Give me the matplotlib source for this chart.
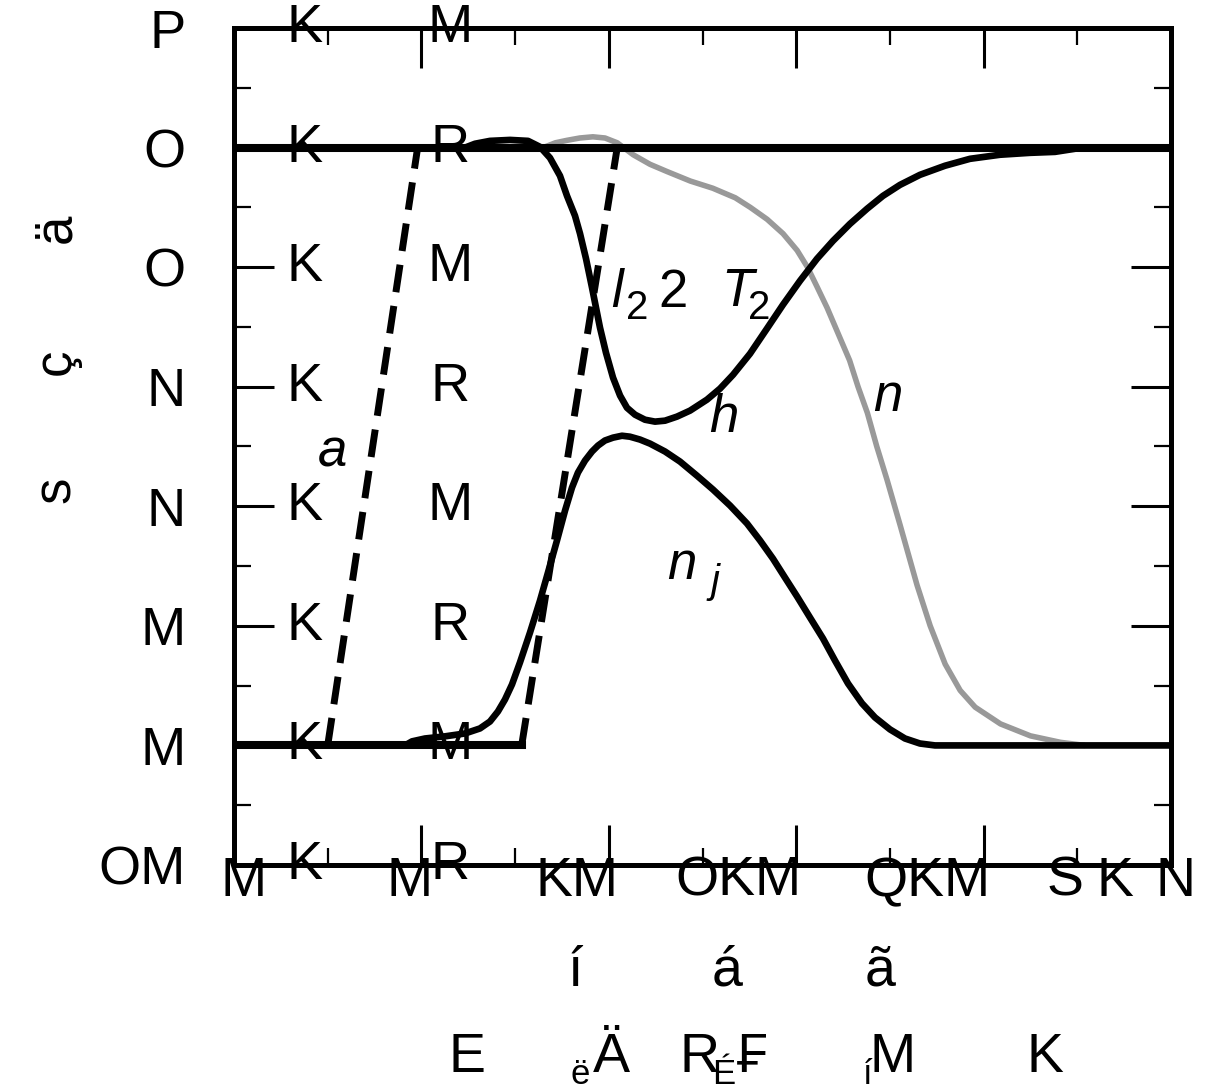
import matplotlib
matplotlib.use("Agg")
import matplotlib.pyplot as plt
from matplotlib.transforms import blended_transform_factory

plt.rcParams['font.family'] = ['Liberation Sans', 'DejaVu Sans']

# curve data
h_x = [0.2433, 0.2572, 0.2732, 0.2946, 0.3138, 0.3266, 0.3372, 0.3479, 0.3554, 0.3639,
       0.3693, 0.3757, 0.3821, 0.3906, 0.3970, 0.4045, 0.4120, 0.4194, 0.4280, 0.4386,
       0.4493, 0.4600, 0.4728, 0.4867, 0.5048, 0.5187, 0.5326, 0.5507, 0.5688, 0.5859,
       0.6041, 0.6222, 0.6393, 0.6574, 0.6756, 0.6926, 0.7108, 0.7321, 0.7588, 0.7855,
       0.8175, 0.8495, 0.8762, 0.8975]
h_y = [2.495, 2.516, 2.528, 2.532, 2.528, 2.503, 2.457, 2.382, 2.298, 2.215,
       2.140, 2.035, 1.914, 1.747, 1.642, 1.538, 1.463, 1.412, 1.383, 1.362,
       1.354, 1.358, 1.375, 1.400, 1.446, 1.492, 1.550, 1.638, 1.743, 1.843,
       1.943, 2.035, 2.110, 2.181, 2.244, 2.298, 2.344, 2.386, 2.424, 2.453,
       2.470, 2.478, 2.482, 2.495]

n_x = [0.330, 0.343, 0.355, 0.369, 0.383, 0.396, 0.409, 0.426, 0.444, 0.462,
       0.487, 0.511, 0.535, 0.551, 0.569, 0.586, 0.601, 0.612, 0.622, 0.633,
       0.645, 0.657, 0.666, 0.676, 0.686, 0.697, 0.711, 0.729, 0.743, 0.759,
       0.775, 0.791, 0.818, 0.850, 0.882, 0.908]
n_y = [2.50, 2.52, 2.53, 2.54, 2.545, 2.54, 2.52, 2.47, 2.43, 2.40,
       2.36, 2.33, 2.29, 2.25, 2.20, 2.14, 2.07, 2.00, 1.92, 1.83,
       1.72, 1.61, 1.50, 1.39, 1.25, 1.11, 0.92, 0.67, 0.50, 0.34,
       0.23, 0.16, 0.09, 0.04, 0.013, 0.0]

nj_x = [0.1825, 0.1900, 0.2038, 0.2252, 0.2465, 0.2625, 0.2732, 0.2817, 0.2892, 0.2967,
        0.3052, 0.3159, 0.3266, 0.3351, 0.3447, 0.3533, 0.3607, 0.3671, 0.3746, 0.3821,
        0.3885, 0.3959, 0.4045, 0.4141, 0.4226, 0.4333, 0.4440, 0.4600, 0.4760, 0.4941,
        0.5112, 0.5294, 0.5475, 0.5614, 0.5752, 0.5880, 0.6009, 0.6147, 0.6286, 0.6414,
        0.6553, 0.6702, 0.6841, 0.7001, 0.7161, 0.7321, 0.7481, 1.0]
nj_y = [0.000, 0.017, 0.029, 0.038, 0.050, 0.071, 0.100, 0.142, 0.192, 0.255,
        0.347, 0.472, 0.606, 0.723, 0.857, 0.982, 1.078, 1.141, 1.191, 1.229,
        1.254, 1.275, 1.287, 1.295, 1.291, 1.279, 1.262, 1.229, 1.187, 1.128,
        1.070, 1.003, 0.928, 0.857, 0.781, 0.702, 0.623, 0.535, 0.447, 0.355,
        0.259, 0.176, 0.117, 0.067, 0.029, 0.008, 0.000, 0.000]

ramp_y = [0.0, 2.5]
ramp1_x = [0.100, 0.196]
ramp2_x = [0.307, 0.409]
top_x = [0.0, 1.0]
top_y = [2.5, 2.5]
base_x = [0.0, 0.307]
base_y = [0.0, 0.0]

# tick labels
ytick_vals = [3.0, 2.5, 2.0, 1.5, 1.0, 0.5, 0.0, -0.5]
ylab_a = ['P', 'O', 'O', 'N', 'N', 'M', 'M', 'OM']
ylab_b = ['K', 'K', 'K', 'K', 'K', 'K', 'K', 'K']
ylab_c = ['M', 'R', 'M', 'R', 'M', 'R', 'M', 'R']

W, H = 1206, 1091
fig = plt.figure(figsize=(W / 100, H / 100), dpi=100)
ax = fig.add_axes([234 / W, 1 - 865 / H, (1171 - 234) / W, (865 - 28) / H])


def px(x, y):
    return x / W, 1 - y / H


curve = dict(solid_joinstyle='round', solid_capstyle='round')
ax.plot(n_x, n_y, color='#999999', lw=4.0, zorder=2, **curve)
ax.plot(top_x, top_y, color='black', lw=5.8, zorder=3)
ax.plot(base_x, base_y, color='black', lw=5.8, zorder=3)
ax.plot(h_x, h_y, color='black', lw=4.8, zorder=3, **curve)
ax.plot(nj_x, nj_y, color='black', lw=4.8, zorder=3, **curve)
ax.plot(ramp1_x, ramp_y, color='black', lw=5, ls=(0, (4, 2)), zorder=3)
ax.plot(ramp2_x, ramp_y, color='black', lw=5, ls=(0, (4, 2)), zorder=3)

ax.set_xlim(0, 1)
ax.set_ylim(-0.5, 3.0)
for s in ax.spines.values():
    s.set_linewidth(3.6)

ax.set_xticks([0, 0.2, 0.4, 0.6, 0.8, 1.0])
ax.set_xticks([0.1, 0.3, 0.5, 0.7, 0.9], minor=True)
ax.set_xticklabels([])
ax.set_yticks(ytick_vals)
ax.set_yticks([2.75, 2.25, 1.75, 1.25, 0.75, 0.25, -0.25], minor=True)
ax.set_yticklabels(ylab_a, fontsize=39)
ax.tick_params(which='both', direction='in', top=True, right=True)
ax.tick_params(which='major', length=29, width=2.2, pad=35)
ax.tick_params(which='minor', length=12, width=1.6)

# remaining characters of the y tick labels
tr = blended_transform_factory(ax.transAxes, ax.transData)
for v, b, c in zip(ytick_vals, ylab_b, ylab_c):
    ax.text(0.0758, v, b, transform=tr, ha='center', va='center', fontsize=39)
    ax.text(0.2305, v, c, transform=tr, ha='center', va='center', fontsize=39)

# x tick labels
for x, s in [(244, 'M'), (410, 'M'), (577, 'KM'), (738, 'OKM'), (927, 'QKM'),
             (1065, 'S'), (1115, 'K'), (1176, 'N')]:
    fig.text(*px(x, 882), s, ha='center', va='center', fontsize=40)

# x axis title
for x, s in [(575, 'í'), (727, 'á'), (880, 'ã')]:
    fig.text(*px(x, 972), s, ha='center', va='center', fontsize=40)
for x, s in [(467, 'E'), (611, 'Ä'), (700, 'R'), (752, '₣'), (893, 'M'), (1045, 'K')]:
    fig.text(*px(x, 1058), s, ha='center', va='center', fontsize=40)
for x, s in [(580, 'ë'), (724, 'É'), (868, 'í')]:
    fig.text(*px(x, 1075), s, ha='center', va='center', fontsize=25)

# y axis title
for y, s in [(490, 's'), (362, 'ç'), (228, 'ä')]:
    fig.text(*px(56, y), s, ha='center', va='center', fontsize=38, rotation=90)

# curve annotations
ann = dict(ha='center', va='center', style='italic')
fig.text(*px(332, 452), 'a', fontsize=38, **ann)
fig.text(*px(617, 293), 'l', fontsize=38, **ann)
fig.text(*px(637, 308), '2', fontsize=29, ha='center', va='center')
fig.text(*px(673, 293), '2', fontsize=38, ha='center', va='center')
fig.text(*px(737, 292), 'T', fontsize=38, **ann)
fig.text(*px(759, 308), '2', fontsize=29, ha='center', va='center')
fig.text(*px(724, 418), 'h', fontsize=38, **ann)
fig.text(*px(888, 397), 'n', fontsize=38, **ann)
fig.text(*px(682, 565), 'n', fontsize=38, **ann)
fig.text(*px(715, 582), 'j', fontsize=29, **ann)

fig.savefig('out.png', dpi=100)
